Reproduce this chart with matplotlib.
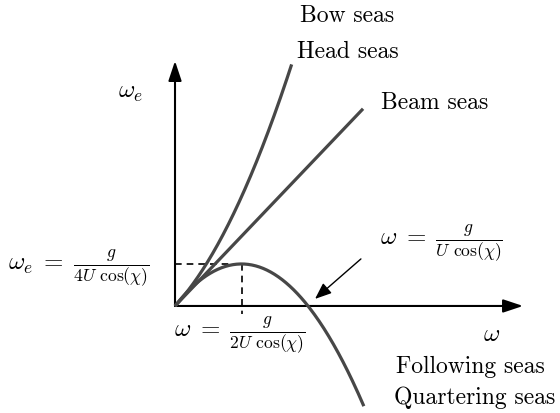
import numpy as np
import matplotlib.pyplot as plt
from matplotlib.patches import FancyArrowPatch

plt.rcParams['mathtext.fontset'] = 'cm'
plt.rcParams['font.family'] = ['cmr10', 'DejaVu Serif']

# encounter frequency  w_e = a*w + b*w^2  (w in units of g/(U cos chi))
headings = ['Head seas', 'Beam seas', 'Following seas']
lin_coef = [0.85, 0.83, 1.0]
quad_coef = [0.9, 0.0, -1.0]
w_end = [0.877, 1.414, 1.42]

w_peak = 0.5      # g / (2U cos chi)
we_peak = 0.25    # g / (4U cos chi)
w_zero = 1.0      # g / (U cos chi)

fig = plt.figure(figsize=(5.6, 4.13), dpi=100)
ax = fig.add_axes([0, 0, 1, 1])
ax.set_xlim(-1.316, 2.895)
ax.set_ylim(-0.637, 1.821)
ax.axis('off')

curve_col = '#474747'
for a, b, we in zip(lin_coef, quad_coef, w_end):
    w = np.linspace(0, we, 200)
    ax.plot(w, a * w + b * w**2, color=curve_col, lw=2.3,
            solid_capstyle='butt', zorder=3)

# axes with arrow heads
for tip in [(2.617, 0.0), (0.0, 1.458)]:
    ax.add_patch(FancyArrowPatch((0, 0), tip,
                 arrowstyle='-|>,head_length=12,head_width=4',
                 mutation_scale=1, color='k', lw=1.5,
                 shrinkA=0, shrinkB=0, zorder=2))

# peak of the following seas curve
ax.plot([0, w_peak], [we_peak, we_peak], 'k--', lw=1.2, dashes=(4, 3))
ax.plot([w_peak, w_peak], [we_peak, -0.048], 'k--', lw=1.2, dashes=(4, 3))

# arrow to the zero crossing
ax.add_patch(FancyArrowPatch((1.398, 0.28), (w_zero + 0.053, 0.042),
             arrowstyle='-|>,head_length=10,head_width=4',
             mutation_scale=1, color='k', lw=1.0,
             shrinkA=0, shrinkB=0, zorder=4))

txt = dict(ha='center', va='center', fontsize=17)
ax.text(1.293, 1.726, 'Bow seas', **txt)
ax.text(1.301, 1.512, 'Head seas', **txt)
ax.text(1.955, 1.208, 'Beam seas', **txt)
ax.text(2.218, -0.363, 'Following seas', **txt)
ax.text(2.256, -0.548, 'Quartering seas', **txt)

mth = dict(ha='center', va='center', fontsize=18)
ax.text(-0.338, 1.268, r'$\omega_e$', **mth)
ax.text(2.383, -0.173, r'$\omega$', **mth)
ax.text(-0.722, 0.226, r'$\omega_e\;=\;\frac{g}{4U\ \cos(\chi)}$', **mth)
ax.text(0.489, -0.173, r'$\omega\;=\;\frac{g}{2U\ \cos(\chi)}$', **mth)
ax.text(2.0, 0.375, r'$\omega\;=\;\frac{g}{U\ \cos(\chi)}$', **mth)

fig.savefig('out.png', dpi=100)
